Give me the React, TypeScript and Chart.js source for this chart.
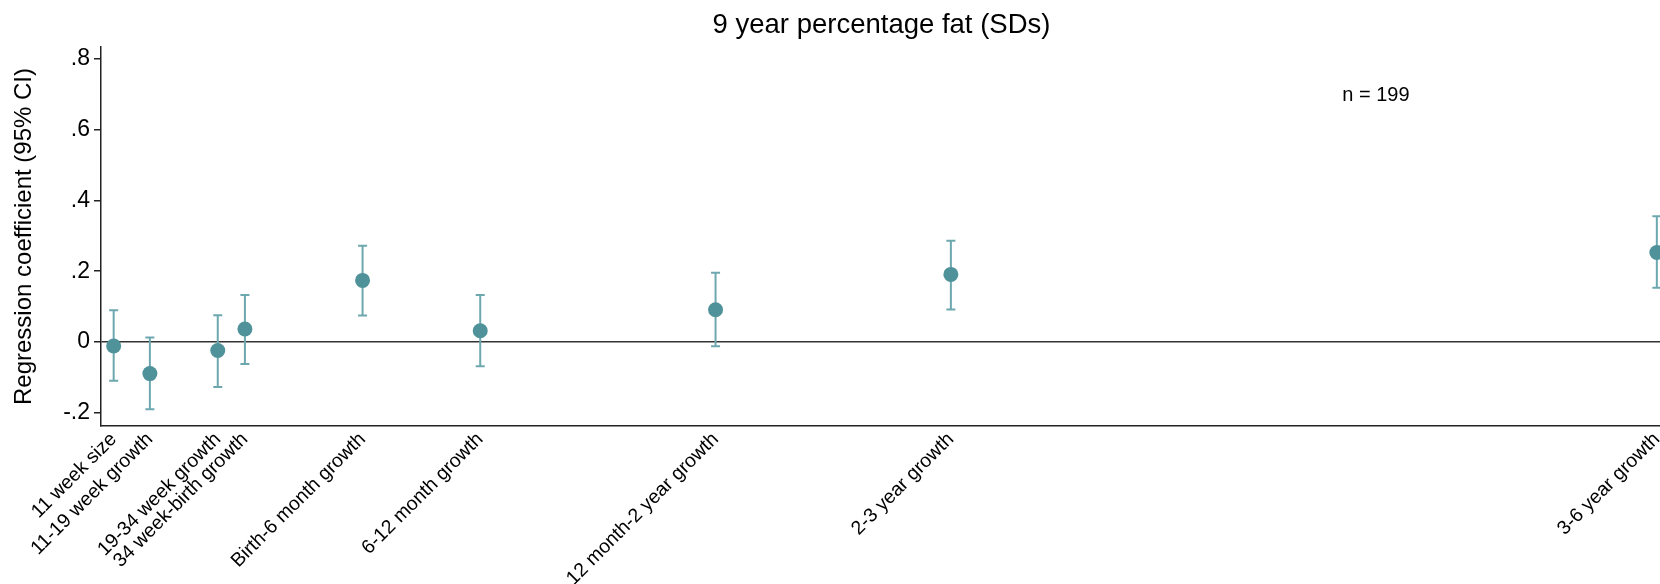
import React, { useEffect, useRef } from "react";
import { Chart, registerables } from "chart.js";

Chart.register(...registerables);

// Data (x positions in weeks since conception timeline)
const categories = [
  "11 week size",
  "11-19 week growth",
  "19-34 week growth",
  "34 week-birth growth",
  "Birth-6 month growth",
  "6-12 month growth",
  "12 month-2 year growth",
  "2-3 year growth",
  "3-6 year growth",
];
const xWeeks = [11, 19, 34, 40, 66, 92, 144, 196, 352];
const coef = [-0.011, -0.089, -0.024, 0.037, 0.174, 0.032, 0.091, 0.191, 0.253];
const lower = [-0.109, -0.190, -0.127, -0.062, 0.075, -0.068, -0.012, 0.092, 0.153];
const upper = [0.090, 0.013, 0.076, 0.133, 0.272, 0.133, 0.196, 0.286, 0.355];
const yTicks = [-0.2, 0, 0.2, 0.4, 0.6, 0.8];

const TITLE = "9 year percentage fat (SDs)";
const Y_TITLE = "Regression coefficient (95% CI)";
const N_TEXT = "n = 199";
const N_POS = { x: 282.5, y: 0.697 };

const FONT = "'Liberation Sans', Arial, Helvetica, sans-serif";
const MARKER = "#4f929a";
const BAR = "#6ea8af";

export default function App() {
  const ref = useRef<HTMLCanvasElement | null>(null);

  useEffect(() => {
    if (!ref.current) return;
    Chart.defaults.font.family = FONT;
    Chart.defaults.color = "#000";

    const errorBars = {
      id: "errorBars",
      beforeDatasetsDraw(chart: any) {
        const { ctx, scales } = chart;
        const xs = scales.x;
        const ys = scales.y;
        ctx.save();
        ctx.strokeStyle = BAR;
        ctx.lineWidth = 2;
        for (let i = 0; i < xWeeks.length; i++) {
          const px = xs.getPixelForValue(xWeeks[i]);
          const pl = ys.getPixelForValue(lower[i]);
          const pu = ys.getPixelForValue(upper[i]);
          ctx.beginPath();
          ctx.moveTo(px, pl);
          ctx.lineTo(px, pu);
          ctx.moveTo(px - 4.5, pl);
          ctx.lineTo(px + 4.5, pl);
          ctx.moveTo(px - 4.5, pu);
          ctx.lineTo(px + 4.5, pu);
          ctx.stroke();
        }
        ctx.restore();
      },
      afterDraw(chart: any) {
        const { ctx, scales, chartArea } = chart;
        ctx.save();
        ctx.fillStyle = "#000";
        ctx.font = `27.5px ${FONT}`;
        ctx.textAlign = "center";
        ctx.textBaseline = "middle";
        ctx.fillText(TITLE, (chartArea.left + chartArea.right) / 2 + 1, 25);
        ctx.font = `20px ${FONT}`;
        ctx.textAlign = "left";
        ctx.fillText(N_TEXT, scales.x.getPixelForValue(N_POS.x), scales.y.getPixelForValue(N_POS.y));
        ctx.restore();
      },
    };

    const chart = new Chart(ref.current, {
      type: "scatter",
      data: {
        datasets: [
          {
            data: xWeeks.map((x, i) => ({ x, y: coef[i] })),
            backgroundColor: MARKER,
            borderColor: MARKER,
            pointRadius: 7.5,
            pointHoverRadius: 7.5,
            borderWidth: 0,
          },
        ],
      },
      options: {
        animation: false,
        responsive: true,
        maintainAspectRatio: false,
        layout: { padding: { top: 47, left: 0, right: 0, bottom: 0 }, autoPadding: false },
        plugins: { legend: { display: false }, tooltip: { enabled: false }, title: { display: false } },
        scales: {
          x: {
            type: "linear",
            min: 8.2,
            max: 352.7,
            afterBuildTicks: (s: any) => {
              s.ticks = xWeeks.map((v) => ({ value: v }));
            },
            afterFit: (s: any) => {
              s.height = 158;
              s.paddingLeft = 0;
              s.paddingRight = 0;
            },
            ticks: {
              autoSkip: false,
              maxRotation: 45,
              minRotation: 45,
              padding: 2,
              font: { size: 19.5 },
              color: "#000",
              callback: (v: any) => {
                const idx = xWeeks.indexOf(Number(v));
                return idx >= 0 ? categories[idx] : "";
              },
            },
            grid: { display: true, drawOnChartArea: false, drawTicks: false },
            border: { display: true, color: "#222", width: 1.5 },
          },
          y: {
            type: "linear",
            min: -0.237,
            max: 0.833,
            afterBuildTicks: (s: any) => {
              s.ticks = yTicks.map((v) => ({ value: v }));
            },
            afterFit: (s: any) => {
              s.width = 101;
              s.paddingTop = 0;
              s.paddingBottom = 0;
            },
            ticks: {
              font: { size: 23 },
              color: "#000",
              padding: 4,
              callback: (v: any) => {
                const n = Math.round(Number(v) * 10) / 10;
                if (n === 0) return "0";
                return n.toString().replace("0.", ".");
              },
            },
            grid: {
              drawOnChartArea: true,
              drawTicks: true,
              tickLength: 7,
              lineWidth: 1.5,
              color: (c: any) => (c.tick && c.tick.value === 0 ? "#333" : "rgba(0,0,0,0)"),
              tickColor: "#222",
            },
            border: { display: true, color: "#222", width: 1.5 },
            title: {
              display: true,
              text: Y_TITLE,
              font: { size: 24 },
              color: "#000",
              padding: { top: 10, bottom: 0 },
            },
          },
        },
      },
      plugins: [errorBars],
    } as any);

    return () => chart.destroy();
  }, []);

  return (
    <div style={{ position: "fixed", left: 0, top: 0, width: 1660, height: 584, background: "#fff" }}>
      <canvas ref={ref} />
    </div>
  );
}
